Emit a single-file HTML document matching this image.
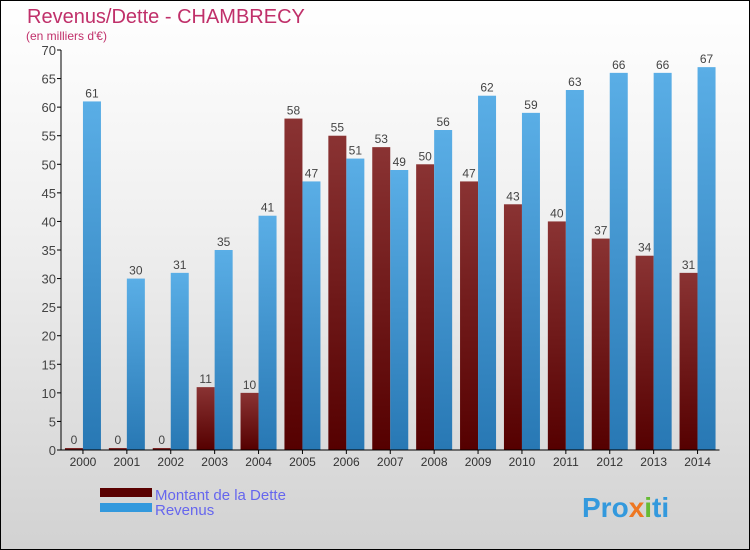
<!DOCTYPE html>
<html><head><meta charset="utf-8"><style>
body{margin:0;}
#c{width:750px;height:550px;position:relative;box-sizing:border-box;border:1px solid #000;background:linear-gradient(#ffffff,#f0f0f0 40%,#d2d2d2);overflow:hidden;font-family:"Liberation Sans",sans-serif;}
</style></head><body>
<div id="c">
<svg id="s" width="750" height="550" style="position:absolute;left:-1px;top:-1px">
<defs>
<linearGradient id="gd" x1="0" y1="0" x2="0" y2="1"><stop offset="0" stop-color="#8a3333"/><stop offset="1" stop-color="#550000"/></linearGradient>
<linearGradient id="gr" x1="0" y1="0" x2="0" y2="1"><stop offset="0" stop-color="#5aaee6"/><stop offset="1" stop-color="#2878b4"/></linearGradient>
</defs>
<text x="27" y="23" font-size="20" fill="#c0306a">Revenus/Dette - CHAMBRECY</text>
<text x="26" y="40" font-size="12" fill="#c0306a">(en milliers d'€)</text>
<g id="g"></g>
<rect x="100" y="488" width="52" height="9" fill="#5a0000"/>
<rect x="100" y="503" width="52" height="9" fill="#3399dd"/>
<text x="155" y="500" font-size="15" fill="#6666ee">Montant de la Dette</text>
<text x="155" y="515" font-size="15" fill="#6666ee">Revenus</text>
<text x="582" y="517" font-size="28" font-weight="bold" fill="#3399dd">Pro<tspan fill="#ee7722">x</tspan><tspan fill="#66bb33">i</tspan>ti</text>
</svg>
</div>
<script>
const categories=["2000","2001","2002","2003","2004","2005","2006","2007","2008","2009","2010","2011","2012","2013","2014"];
const dette=[0,0,0,11,10,58,55,53,50,47,43,40,37,34,31];
const revenus=[61,30,31,35,41,47,51,49,56,62,59,63,66,66,67];
const yTicks=[0,5,10,15,20,25,30,35,40,45,50,55,60,65,70];
const NS="http://www.w3.org/2000/svg";
const g=document.getElementById('g');
const x0=61,step=43.9,y0=450,yMax=70,h=400,bw=18;
const y=v=>y0-v/yMax*h;
const cx=i=>x0+step*(i+0.5);
function mk(t,a){const e=document.createElementNS(NS,t);for(const k in a)e.setAttribute(k,a[k]);g.appendChild(e);return e;}
yTicks.forEach(v=>{
 const l=mk('line',{x1:x0-4,x2:x0,y1:y(v),y2:y(v),stroke:'#000'});
 
 
 const t=mk('text',{x:x0-5,y:y(v)+5,'text-anchor':'end','font-size':13,fill:'#444'});t.textContent=v;
 
 
});
categories.forEach((c,i)=>{
 const d=mk('rect',{x:cx(i)-bw,y:Math.min(y(dette[i]),y0-2),width:bw,height:Math.max(y0-y(dette[i]),2),fill:'url(#gd)'});
 
 
 const r=mk('rect',{x:cx(i),y:y(revenus[i]),width:bw,height:y0-y(revenus[i]),fill:'url(#gr)'});
 
 
 const t1=mk('text',{x:cx(i)-bw/2,y:Math.min(y(dette[i]),y0-2)-4,'text-anchor':'middle','font-size':12,fill:'#444'});t1.textContent=dette[i];
 
 
 const t2=mk('text',{x:cx(i)+bw/2,y:y(revenus[i])-4,'text-anchor':'middle','font-size':12,fill:'#444'});t2.textContent=revenus[i];
 
 
 const tk=mk('line',{x1:cx(i),x2:cx(i),y1:y0,y2:y0+4,stroke:'#000'});
 
 
 const tl=mk('text',{x:cx(i),y:y0+16,'text-anchor':'middle','font-size':12,fill:'#333'});tl.textContent=c;
 
 
});
const ya=mk('line',{x1:x0,x2:x0,y1:y(70),y2:y0,stroke:'#000'});


const xa=mk('line',{x1:x0,x2:x0+step*15,y1:y0,y2:y0,stroke:'#000'});


</script>
</body></html>
